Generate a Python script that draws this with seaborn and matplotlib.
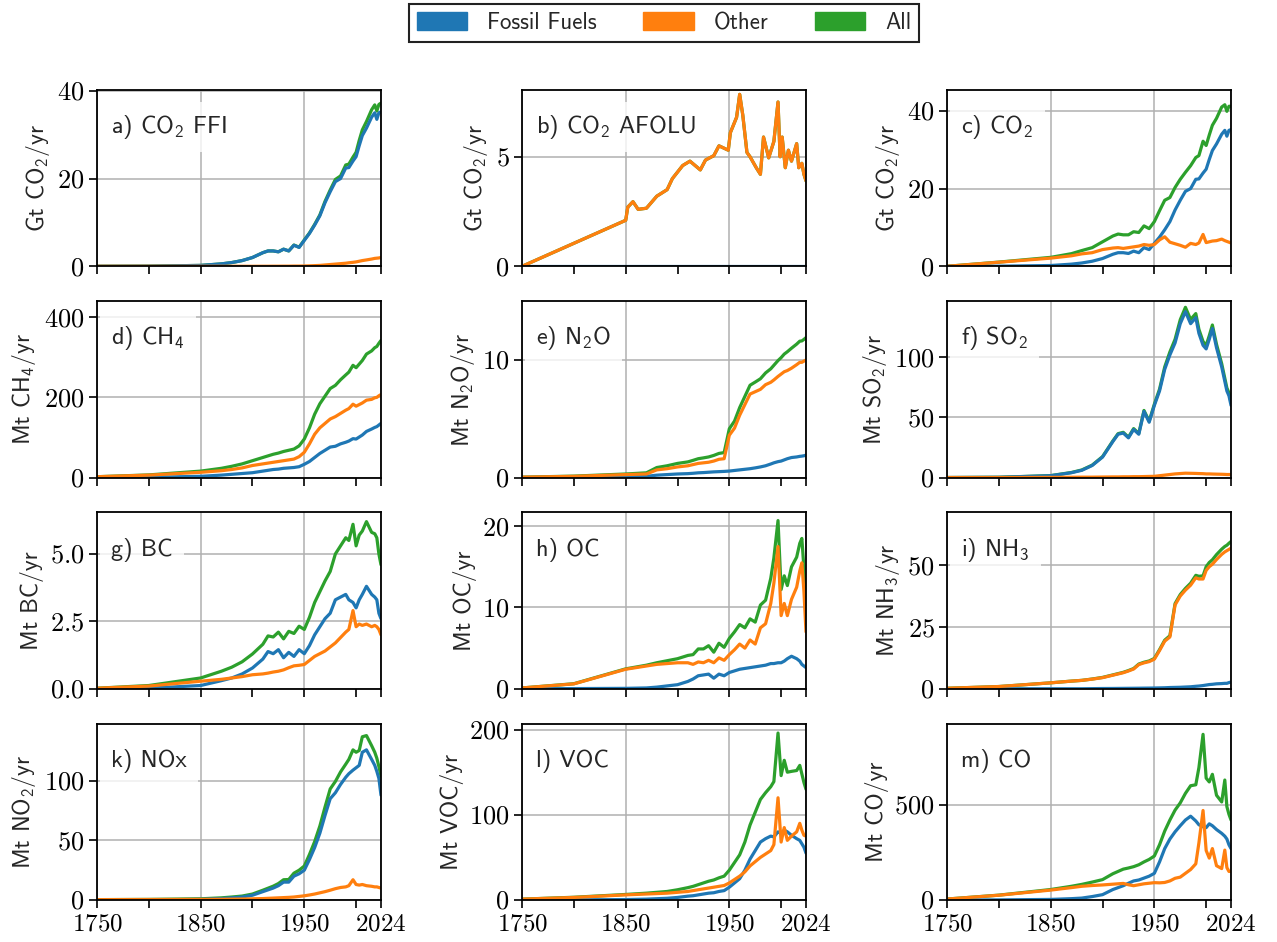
import matplotlib
matplotlib.use("Agg")
import matplotlib.pyplot as plt
import seaborn as sns
from matplotlib.ticker import FixedLocator, FuncFormatter
from matplotlib.patches import Patch

# ---------------- data ----------------
YEARS = [1750, 1800, 1850, 1870, 1880, 1890, 1900, 1910, 1915, 1920, 1925, 1930,
         1935, 1940, 1945, 1950, 1955, 1960, 1965, 1970, 1975, 1980, 1985, 1990,
         1993, 1997, 2000, 2003, 2006, 2010, 2015, 2018, 2020, 2022, 2024]

# a) CO2 FFI  (Gt CO2/yr)
co2ffi_fossil = [0, 0.03, 0.2, 0.55, 0.85, 1.3, 2.0, 3.1, 3.5, 3.5, 3.3, 3.9, 3.5, 4.8, 4.3, 5.9, 7.5,
                 9.4, 11.5, 14.5, 17.0, 19.3, 20.0, 22.4, 22.5, 24.0, 25.0, 27.5, 29.8, 31.5, 34.0,
                 35.0, 33.5, 35.0, 35.2]
co2ffi_other = [0, 0, 0, 0, 0, 0, 0, 0.01, 0.01, 0.02, 0.02, 0.03, 0.03, 0.05, 0.05, 0.07, 0.1,
                0.15, 0.2, 0.3, 0.4, 0.5, 0.6, 0.7, 0.8, 0.9, 1.0, 1.15, 1.3, 1.45, 1.65, 1.8,
                1.85, 1.9, 2.0]
co2ffi_all = [0, 0.03, 0.2, 0.55, 0.85, 1.3, 2.0, 3.1, 3.5, 3.5, 3.3, 3.9, 3.5, 4.85, 4.35, 6.0, 7.6,
              9.55, 11.7, 14.8, 17.4, 19.8, 20.6, 23.1, 23.3, 24.9, 26.0, 28.7, 31.1, 33.0, 35.7,
              36.8, 35.4, 36.9, 37.2]

# b) CO2 AFOLU (Gt CO2/yr)
AFOLU_YEARS = [1750, 1850, 1852, 1857, 1862, 1870, 1880, 1890, 1895, 1905, 1912, 1922, 1927,
               1935, 1940, 1949, 1951, 1957, 1960, 1963, 1967, 1970, 1976, 1980, 1983, 1988,
               1993, 1997, 1999, 2001, 2004, 2007, 2010, 2015, 2017, 2020, 2022, 2024]
afolu_other = [0, 2.1, 2.7, 2.95, 2.6, 2.65, 3.2, 3.5, 4.0, 4.6, 4.8, 4.4, 4.85, 5.05, 5.5, 5.3,
               6.1, 6.8, 7.85, 6.9, 5.2, 5.0, 4.5, 4.2, 5.9, 4.95, 5.7, 7.5, 5.0, 5.9, 4.5, 5.3,
               4.8, 5.6, 4.5, 4.7, 4.2, 3.9]
afolu_all = afolu_other
AFOLU_FOSSIL_YEARS = [1750, 2024]
afolu_fossil = [0, 0]

# c) CO2 total (Gt CO2/yr)
co2_fossil = co2ffi_fossil
co2_other = [0, 1.05, 2.1, 2.7, 3.2, 3.5, 4.3, 4.7, 4.8, 4.6, 4.8, 5.0, 5.2, 5.6, 5.4, 5.6, 6.8,
             7.6, 6.2, 5.8, 5.4, 4.9, 5.9, 5.6, 6.0, 8.2, 6.1, 6.3, 6.5, 6.6, 7.0, 6.6, 6.4, 6.2, 6.0]
co2_all = [0, 1.08, 2.3, 3.25, 4.05, 4.8, 6.3, 7.8, 8.3, 8.1, 8.1, 8.9, 8.7, 10.4, 9.7, 11.5, 14.3,
           17.0, 17.7, 20.3, 22.4, 24.2, 25.9, 28.0, 28.5, 32.2, 31.1, 33.8, 36.3, 38.1, 41.0,
           41.6, 39.9, 41.2, 41.2]

# d) CH4 (Mt CH4/yr)
ch4_fossil = [0, 0.5, 3, 6, 8, 10, 12, 16, 18, 20, 21, 23, 24, 25, 27, 33, 40, 50, 60, 68, 76, 78,
              84, 88, 91, 97, 96, 101, 106, 115, 121, 125, 127, 131, 135]
ch4_other = [2, 6, 13, 17, 20, 24, 30, 34, 36, 38, 40, 42, 44, 46, 52, 63, 84, 108, 124, 135, 146,
             152, 160, 168, 172, 183, 178, 182, 186, 193, 195, 199, 200, 204, 207]
ch4_all = [2, 6.5, 16, 23, 28, 34, 42, 50, 54, 58, 61, 65, 68, 71, 79, 96, 124, 158, 184, 203, 222,
           230, 244, 256, 263, 280, 274, 283, 292, 308, 316, 324, 327, 335, 342]

# e) N2O (Mt N2O/yr)
n2o_fossil = [0, 0.02, 0.05, 0.1, 0.2, 0.25, 0.3, 0.33, 0.36, 0.4, 0.42, 0.45, 0.48, 0.5, 0.52,
              0.55, 0.6, 0.65, 0.7, 0.75, 0.82, 0.9, 1.0, 1.15, 1.25, 1.35, 1.4, 1.5, 1.6, 1.7,
              1.75, 1.8, 1.82, 1.85, 1.9]
n2o_other = [0.03, 0.1, 0.25, 0.3, 0.65, 0.75, 0.9, 1.0, 1.1, 1.2, 1.25, 1.3, 1.4, 1.55, 1.6, 3.6,
             4.2, 5.3, 6.2, 7.1, 7.3, 7.5, 7.9, 8.1, 8.3, 8.6, 8.8, 9.0, 9.1, 9.3, 9.6, 9.8, 9.8,
             9.9, 10.0]
n2o_all = [0.03, 0.12, 0.3, 0.4, 0.85, 1.0, 1.2, 1.33, 1.46, 1.6, 1.67, 1.75, 1.88, 2.05, 2.12,
           4.15, 4.8, 5.95, 6.9, 7.85, 8.12, 8.4, 8.9, 9.25, 9.55, 9.95, 10.2, 10.5, 10.7, 11.0,
           11.35, 11.6, 11.62, 11.75, 11.9]

# f) SO2 (Mt SO2/yr)
so2_fossil = [0, 0.2, 1.5, 4, 6, 10, 17, 30, 36, 37, 33, 40, 36, 55, 46, 60, 72, 90, 102, 112, 128,
              138, 128, 133, 120, 110, 107, 115, 124, 108, 92, 80, 72, 68, 60]
so2_other = [0, 0, 0.1, 0.2, 0.3, 0.3, 0.4, 0.5, 0.5, 0.6, 0.6, 0.7, 0.7, 0.8, 0.9, 1.0, 1.5, 2.0,
             2.5, 3.0, 3.3, 3.6, 3.5, 3.4, 3.3, 3.2, 3.0, 3.0, 2.9, 2.8, 2.7, 2.6, 2.5, 2.5, 2.5]
so2_all = [0, 0.2, 1.6, 4.2, 6.3, 10.3, 17.4, 30.5, 36.5, 37.6, 33.6, 40.7, 36.7, 55.8, 46.9, 61,
           73.5, 92, 104.5, 115, 131.3, 141.6, 131.5, 136.4, 123.3, 113.2, 110, 118, 126.9, 110.8,
           94.7, 82.6, 74.5, 70.5, 62.5]

# g) BC (Mt BC/yr)
bc_fossil = [0, 0.02, 0.12, 0.3, 0.4, 0.55, 0.77, 1.1, 1.38, 1.3, 1.45, 1.15, 1.35, 1.2, 1.45, 1.3,
             1.6, 2.0, 2.3, 2.6, 2.8, 3.3, 3.4, 3.5, 3.3, 3.2, 3.0, 3.3, 3.5, 3.8, 3.5, 3.4, 3.3,
             2.8, 2.6]
bc_other = [0.02, 0.1, 0.28, 0.35, 0.4, 0.45, 0.52, 0.55, 0.58, 0.62, 0.65, 0.7, 0.78, 0.85, 0.87,
            0.9, 1.05, 1.2, 1.3, 1.4, 1.55, 1.7, 1.9, 2.1, 2.2, 2.9, 2.3, 2.4, 2.35, 2.4, 2.3, 2.35,
            2.3, 2.2, 2.0]
bc_all = [0.02, 0.12, 0.4, 0.65, 0.8, 1.0, 1.29, 1.65, 1.96, 1.92, 2.1, 1.85, 2.13, 2.05, 2.32,
          2.2, 2.65, 3.2, 3.6, 4.0, 4.35, 5.0, 5.3, 5.6, 5.5, 6.1, 5.3, 5.7, 5.85, 6.2, 5.8, 5.75,
          5.6, 5.0, 4.6]

# h) OC (Mt OC/yr)
oc_fossil = [0, 0.02, 0.05, 0.1, 0.2, 0.35, 0.5, 0.9, 1.2, 1.6, 1.7, 1.8, 1.3, 1.8, 1.6, 2.0, 2.2,
             2.4, 2.5, 2.6, 2.7, 2.8, 2.9, 3.1, 3.1, 3.2, 3.2, 3.4, 3.7, 4.0, 3.7, 3.4, 3.0, 2.8, 2.6]
oc_other = [0.1, 0.6, 2.4, 2.8, 3.0, 3.1, 3.2, 3.2, 3.0, 3.3, 3.2, 3.5, 3.2, 3.8, 3.5, 4.2, 4.8,
            5.5, 5.0, 6.0, 5.5, 7.5, 8.0, 10.5, 13.0, 17.5, 9.0, 10.5, 9.0, 11.0, 12.5, 14.5, 15.5,
            12.0, 7.0]
oc_all = [0.1, 0.62, 2.45, 2.9, 3.2, 3.45, 3.7, 4.1, 4.2, 4.9, 4.9, 5.3, 4.5, 5.6, 5.1, 6.2, 7.0,
          7.9, 7.5, 8.6, 8.2, 10.3, 10.9, 13.6, 16.1, 20.7, 12.2, 13.9, 12.7, 15.0, 16.2, 17.9,
          18.5, 14.8, 9.6]

# i) NH3 (Mt NH3/yr)
nh3_fossil = [0, 0, 0, 0, 0, 0.05, 0.1, 0.12, 0.14, 0.16, 0.18, 0.2, 0.22, 0.25, 0.27, 0.3, 0.35,
              0.4, 0.5, 0.55, 0.6, 0.7, 0.8, 1.0, 1.1, 1.3, 1.5, 1.7, 1.8, 2.0, 2.1, 2.2, 2.2, 2.5,
              2.7]
nh3_other = [0.2, 0.9, 2.4, 3.1, 3.4, 3.9, 4.5, 5.5, 6.0, 6.5, 7.2, 8.0, 9.8, 10.5, 11.0, 12.0,
             15.5, 19.3, 21.0, 34.0, 37.6, 40.0, 42.0, 45.0, 44.5, 44.5, 48.0, 49.5, 50.5, 52.4,
             54.5, 55.5, 56.0, 56.5, 57.0]
nh3_all = [0.2, 0.9, 2.4, 3.1, 3.4, 3.95, 4.6, 5.62, 6.14, 6.66, 7.38, 8.2, 10.02, 10.75, 11.27,
           12.3, 15.85, 19.7, 21.5, 34.55, 38.2, 40.7, 42.8, 46.0, 45.6, 45.8, 49.5, 51.2, 52.3,
           54.4, 56.6, 57.7, 58.2, 59.0, 59.7]

# k) NOx (Mt NO2/yr)
nox_fossil = [0, 0.1, 0.5, 1.2, 1.8, 2.5, 4.0, 7, 8.5, 10, 12, 15, 15, 20, 22, 25, 34, 44, 56, 71,
              85, 90, 97, 103, 106, 109, 111, 113, 124, 126, 118, 113, 108, 102, 88]
nox_other = [0.3, 0.4, 0.5, 0.6, 0.7, 0.8, 1.0, 1.2, 1.4, 1.6, 1.8, 2.0, 2.2, 2.5, 3.0, 3.5, 4.2,
             5.0, 6.0, 7.0, 8.2, 9.5, 10.5, 11, 12, 17, 13, 12.5, 13, 12, 11.5, 11, 11, 10.5, 10]
nox_all = [0.3, 0.5, 1.0, 1.8, 2.5, 3.3, 5.0, 8.2, 9.9, 11.6, 13.8, 17, 17.2, 22.5, 25, 28.5, 38.2,
           49, 62, 78, 93.2, 99.5, 107.5, 114, 118, 126, 124, 125.5, 137, 138, 129.5, 124, 119,
           112, 104]

# l) VOC (Mt VOC/yr)
voc_fossil = [0, 0.2, 0.5, 1, 1.5, 2, 3, 4.5, 5, 6, 7, 8, 8.5, 10, 11, 15, 20, 25, 35, 48, 58, 68,
              72, 75, 74, 80, 78, 82, 80, 76, 72, 70, 66, 62, 55]
voc_other = [1, 3, 6, 7, 7.5, 8, 9, 10, 11, 12, 13, 14, 15, 16, 17, 20, 24, 28, 33, 40, 45, 50, 54,
             58, 65, 120, 68, 85, 70, 75, 80, 90, 82, 76, 75]
voc_all = [1, 3.2, 6.5, 8, 9, 10, 12, 14.5, 16, 18, 20, 22, 23.5, 26, 28, 35, 44, 53, 68, 88, 103,
           118, 126, 133, 139, 196, 146, 164, 150, 151, 152, 158, 148, 138, 130]

# m) CO (Mt CO/yr)
co_fossil = [0, 0.5, 3, 7, 10, 18, 28, 55, 65, 75, 88, 100, 105, 115, 125, 140, 200, 270, 320, 358,
             390, 420, 440, 415, 395, 385, 380, 400, 390, 370, 350, 335, 320, 290, 270]
co_other = [5, 25, 52, 65, 72, 76, 79, 83, 85, 87, 80, 75, 80, 85, 88, 91, 90, 92, 100, 114, 120,
            140, 160, 190, 300, 470, 260, 220, 270, 180, 165, 262, 170, 150, 150]
co_all = [5, 25.5, 55, 72, 82, 94, 107, 138, 150, 162, 168, 175, 185, 200, 213, 231, 290, 362, 420,
          472, 510, 560, 600, 605, 695, 870, 640, 620, 660, 550, 515, 630, 490, 450, 420]

SERIES_LABELS = ["Fossil Fuels", "Other", "All"]
SERIES_COLORS = ["#1f77b4", "#ff7f0e", "#2ca02c"]

PANELS = [
    ("a) CO$_\\mathregular{2}$ FFI", "Gt CO$_\\mathregular{2}$/yr", 40.2, [0, 20, 40], "{:g}",
     (YEARS, co2ffi_fossil), (YEARS, co2ffi_other), (YEARS, co2ffi_all)),
    ("b) CO$_\\mathregular{2}$ AFOLU", "Gt CO$_\\mathregular{2}$/yr", 8.05, [0, 5], "{:g}",
     (AFOLU_FOSSIL_YEARS, afolu_fossil), (AFOLU_YEARS, afolu_other), (AFOLU_YEARS, afolu_all)),
    ("c) CO$_\\mathregular{2}$", "Gt CO$_\\mathregular{2}$/yr", 45.4, [0, 20, 40], "{:g}",
     (YEARS, co2_fossil), (YEARS, co2_other), (YEARS, co2_all)),
    ("d) CH$_\\mathregular{4}$", "Mt CH$_\\mathregular{4}$/yr", 440, [0, 200, 400], "{:g}",
     (YEARS, ch4_fossil), (YEARS, ch4_other), (YEARS, ch4_all)),
    ("e) N$_\\mathregular{2}$O", "Mt N$_\\mathregular{2}$O/yr", 15.0, [0, 10], "{:g}",
     (YEARS, n2o_fossil), (YEARS, n2o_other), (YEARS, n2o_all)),
    ("f) SO$_\\mathregular{2}$", "Mt SO$_\\mathregular{2}$/yr", 146.7, [0, 50, 100], "{:g}",
     (YEARS, so2_fossil), (YEARS, so2_other), (YEARS, so2_all)),
    ("g) BC", "Mt BC/yr", 6.54, [0, 2.5, 5.0], "{:.1f}",
     (YEARS, bc_fossil), (YEARS, bc_other), (YEARS, bc_all)),
    ("h) OC", "Mt OC/yr", 21.7, [0, 10, 20], "{:g}",
     (YEARS, oc_fossil), (YEARS, oc_other), (YEARS, oc_all)),
    ("i) NH$_\\mathregular{3}$", "Mt NH$_\\mathregular{3}$/yr", 71.5, [0, 25, 50], "{:g}",
     (YEARS, nh3_fossil), (YEARS, nh3_other), (YEARS, nh3_all)),
    ("k) NOx", "Mt NO$_\\mathregular{2}$/yr", 148, [0, 50, 100], "{:g}",
     (YEARS, nox_fossil), (YEARS, nox_other), (YEARS, nox_all)),
    ("l) VOC", "Mt VOC/yr", 207, [0, 100, 200], "{:g}",
     (YEARS, voc_fossil), (YEARS, voc_other), (YEARS, voc_all)),
    ("m) CO", "Mt CO/yr", 926, [0, 500], "{:g}",
     (YEARS, co_fossil), (YEARS, co_other), (YEARS, co_all)),
]

X_MAJOR = [1750, 1850, 1950, 2024]
X_MINOR = [1800, 1900, 2000]

# ---------------- style ----------------
sns.set_theme(style="ticks")
plt.rcParams.update({
    "font.family": ["cmss10", "DejaVu Sans"],
    "mathtext.fontset": "cm",
    "axes.unicode_minus": False,
    "font.size": 17,
    "axes.labelsize": 17,
    "xtick.labelsize": 18,
    "ytick.labelsize": 19,
    "axes.edgecolor": "black",
    "axes.linewidth": 1.3,
    "grid.color": "#b0b0b0",
    "grid.linewidth": 1.1,
    "axes.axisbelow": True,
})

fig = plt.figure(figsize=(12.77, 9.42), dpi=100)
axes = fig.subplots(4, 3)
fig.subplots_adjust(left=0.076, right=0.964, top=0.9045, bottom=0.0446,
                    wspace=0.497, hspace=0.198)

for i, (ax, panel) in enumerate(zip(axes.flat, PANELS)):
    title, ylabel, ytop, yticks, yfmt, fossil, other, allser = panel
    # draw order: All, Fossil Fuels, Other
    for (xs, ys), col in ((allser, SERIES_COLORS[2]), (fossil, SERIES_COLORS[0]),
                          (other, SERIES_COLORS[1])):
        sns.lineplot(x=xs, y=ys, ax=ax, color=col, linewidth=2.3, errorbar=None)
    ax.set_xlim(1750, 2024)
    ax.set_ylim(0, ytop)
    ax.xaxis.set_major_locator(FixedLocator(X_MAJOR))
    ax.xaxis.set_minor_locator(FixedLocator(X_MINOR))
    ax.yaxis.set_major_locator(FixedLocator(yticks))
    ax.xaxis.set_major_formatter(FuncFormatter(lambda v, p: "$%d$" % int(round(v))))
    ax.yaxis.set_major_formatter(FuncFormatter(lambda v, p, f=yfmt: "$" + f.format(v) + "$"))
    ax.grid(True, which="major")
    ax.tick_params(axis="both", which="major", direction="out", length=6, width=1.2,
                   colors="black", labelcolor="black", pad=3)
    ax.tick_params(axis="x", which="minor", direction="out", length=6, width=1.2,
                   colors="black")
    if i < 9:
        ax.tick_params(axis="x", labelbottom=False)
    for s in ax.spines.values():
        s.set_visible(True)
        s.set_color("black")
        s.set_linewidth(1.3)
    ax.set_xlabel("")
    ax.set_ylabel(ylabel, labelpad=4)
    ax.text(0.05, 0.755, title, transform=ax.transAxes, ha="left", va="baseline",
            fontsize=17.5, zorder=10,
            bbox=dict(boxstyle="square,pad=0.45", facecolor="white", edgecolor="none",
                      alpha=0.8))

handles = [Patch(facecolor=c, edgecolor=c, label=l) for l, c in zip(SERIES_LABELS, SERIES_COLORS)]
leg = fig.legend(handles=handles, loc="upper center", bbox_to_anchor=(0.52, 1.008), ncol=3,
                 frameon=True, fancybox=False, edgecolor="#222222", framealpha=1,
                 handlelength=2.2, handleheight=0.85, handletextpad=0.85, columnspacing=2.05,
                 borderpad=0.35, fontsize=16.5)
leg.get_frame().set_linewidth(1.5)

fig.savefig("out.png", dpi=100)
